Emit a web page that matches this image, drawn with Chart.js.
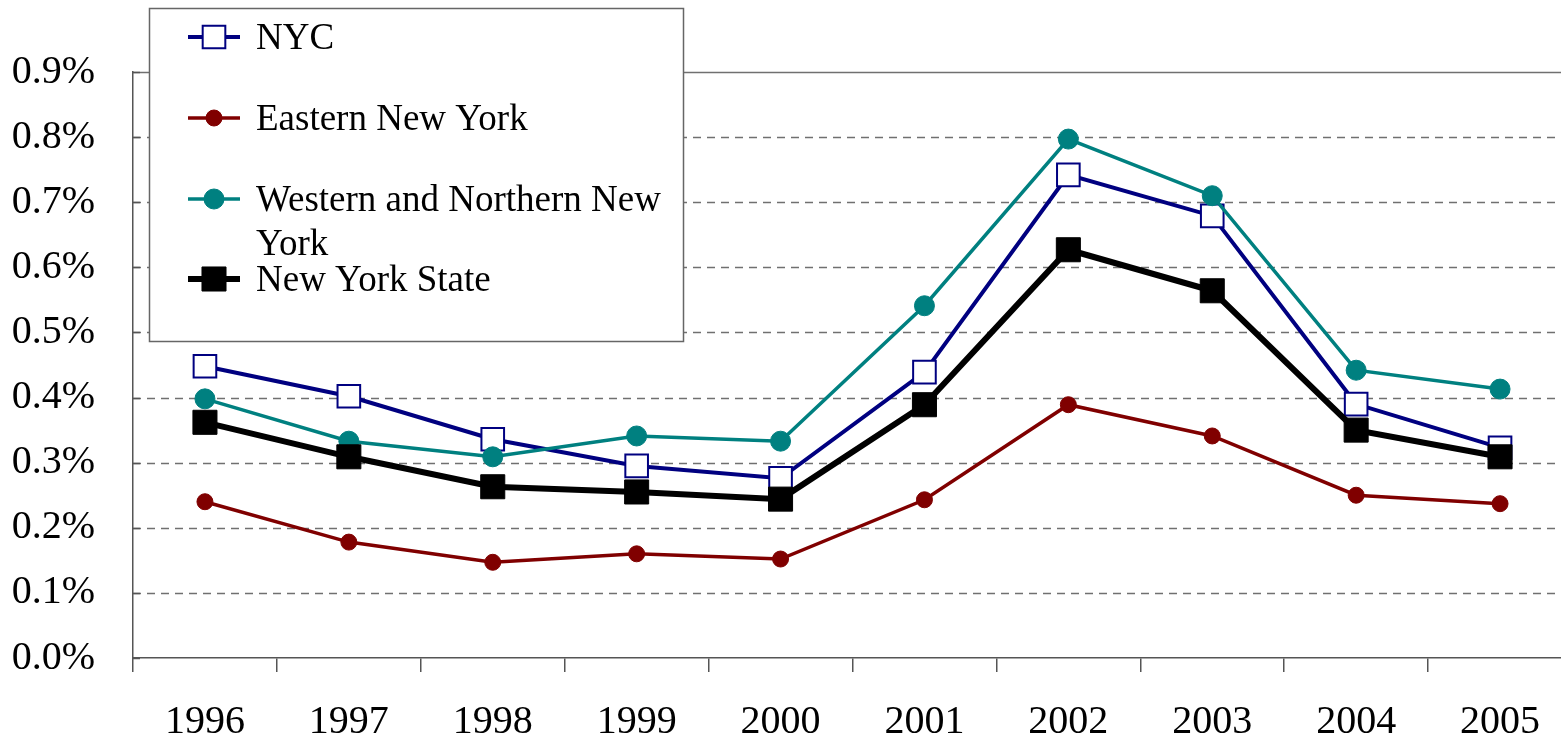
<!DOCTYPE html>
<html>
<head>
<meta charset="utf-8">
<script src="https://cdn.jsdelivr.net/npm/chart.js@4.4.0/dist/chart.umd.min.js"></script>
<style>
  html, body { margin: 0; padding: 0; background: #fff; overflow: hidden; }
  #wrap { position: relative; width: 1590px; height: 746px; }
</style>
</head>
<body>
<div id="wrap"><canvas id="rateChart" width="1590" height="746"></canvas></div>
<script>
// Chart data
const years = ['1996', '1997', '1998', '1999', '2000', '2001', '2002', '2003', '2004', '2005'];
const nycValues = [0.448, 0.402, 0.336, 0.295, 0.276, 0.439, 0.742, 0.679, 0.390, 0.323];
const easternValues = [0.240, 0.178, 0.147, 0.160, 0.152, 0.243, 0.389, 0.341, 0.250, 0.237];
const westernValues = [0.398, 0.333, 0.309, 0.341, 0.333, 0.541, 0.797, 0.710, 0.442, 0.413];
const stateValues = [0.362, 0.309, 0.263, 0.255, 0.244, 0.389, 0.627, 0.564, 0.350, 0.309];
const yTicks = [0, 0.1, 0.2, 0.3, 0.4, 0.5, 0.6, 0.7, 0.8, 0.9];

const serif = '"Liberation Serif", "Times New Roman", serif';

// Horizontal grid lines: dashed, solid line on top
const gridLines = {
    id: 'gridLines',
    beforeDatasetsDraw(chart) {
        const ctx = chart.ctx;
        const area = chart.chartArea;
        const y = chart.scales.y;
        ctx.save();
        ctx.strokeStyle = '#707070';
        ctx.lineWidth = 1.5;
        yTicks.forEach(function(v) {
            if (v === 0) return;
            const py = Math.round(y.getPixelForValue(v)) + 0.5;
            ctx.setLineDash(v === 0.9 ? [] : [8, 6]);
            ctx.beginPath();
            ctx.moveTo(area.left, py);
            ctx.lineTo(area.right, py);
            ctx.stroke();
        });
        // small inward ticks on the y axis
        ctx.setLineDash([]);
        ctx.strokeStyle = '#555';
        ctx.lineWidth = 1.5;
        yTicks.forEach(function(v) {
            const py = Math.round(y.getPixelForValue(v)) + 0.5;
            ctx.beginPath();
            ctx.moveTo(area.left, py);
            ctx.lineTo(area.left + 7, py);
            ctx.stroke();
        });
        ctx.restore();
    }
};

// Boxed legend drawn over the plot, top left
const boxLegend = {
    id: 'boxLegend',
    afterDraw(chart) {
        const ctx = chart.ctx;
        const box = { x: 149, y: 8, w: 534, h: 333 };
        ctx.save();
        ctx.fillStyle = '#fff';
        ctx.fillRect(box.x, box.y, box.w, box.h);
        ctx.strokeStyle = '#666';
        ctx.lineWidth = 1.5;
        ctx.strokeRect(box.x + 0.5, box.y + 0.5, box.w, box.h);

        const rows = [
            { lines: ['NYC'], y: 37 },
            { lines: ['Eastern New York'], y: 118 },
            { lines: ['Western and Northern New', 'York'], y: 199 },
            { lines: ['New York State'], y: 279 }
        ];
        ctx.font = '37px ' + serif;
        ctx.textBaseline = 'middle';
        ctx.textAlign = 'left';
        chart.data.datasets.forEach(function(ds, i) {
            const row = rows[i];
            ctx.strokeStyle = ds.borderColor;
            ctx.lineWidth = ds.borderWidth;
            ctx.beginPath();
            ctx.moveTo(188, row.y);
            ctx.lineTo(240, row.y);
            ctx.stroke();
            ctx.fillStyle = ds.pointBackgroundColor;
            ctx.strokeStyle = ds.pointBorderColor;
            ctx.lineWidth = ds.pointBorderWidth;
            ctx.beginPath();
            if (ds.pointStyle === 'rect') {
                const s = ds.pointRadius * Math.SQRT1_2;
                ctx.rect(214 - s, row.y - s, 2 * s, 2 * s);
            } else {
                ctx.arc(214, row.y, ds.pointRadius, 0, Math.PI * 2);
            }
            ctx.fill();
            ctx.stroke();
            ctx.fillStyle = '#000';
            row.lines.forEach(function(t, k) {
                ctx.fillText(t, 256, row.y + 2 + k * 44);
            });
        });
        ctx.restore();
    }
};

const ctx = document.getElementById('rateChart').getContext('2d');
const rateChart = new Chart(ctx, {
    type: 'line',
    data: {
        labels: years,
        datasets: [{
            label: 'NYC',
            data: nycValues,
            borderColor: '#000080',
            borderWidth: 4,
            pointStyle: 'rect',
            pointRadius: 16,
            pointBackgroundColor: '#ffffff',
            pointBorderColor: '#000080',
            pointBorderWidth: 2,
            order: 4
        }, {
            label: 'Eastern New York',
            data: easternValues,
            borderColor: '#800000',
            borderWidth: 3.5,
            pointStyle: 'circle',
            pointRadius: 8,
            pointBackgroundColor: '#800000',
            pointBorderColor: '#800000',
            pointBorderWidth: 1,
            order: 3
        }, {
            label: 'Western and Northern New York',
            data: westernValues,
            borderColor: '#008080',
            borderWidth: 3.5,
            pointStyle: 'circle',
            pointRadius: 10,
            pointBackgroundColor: '#008080',
            pointBorderColor: '#008080',
            pointBorderWidth: 1,
            order: 2
        }, {
            label: 'New York State',
            data: stateValues,
            borderColor: '#000000',
            borderWidth: 6,
            pointStyle: 'rect',
            pointRadius: 17,
            pointBackgroundColor: '#000000',
            pointBorderColor: '#000000',
            pointBorderWidth: 1,
            order: 1
        }]
    },
    options: {
        responsive: false,
        animation: false,
        layout: {
            padding: { top: 72, left: 12, right: 4, bottom: 0 }
        },
        plugins: {
            legend: { display: false },
            tooltip: { enabled: false }
        },
        elements: {
            line: { tension: 0 }
        },
        scales: {
            x: {
                offset: true,
                afterFit: function(scale) { scale.height = 88; },
                grid: {
                    offset: true,
                    drawOnChartArea: false,
                    drawTicks: true,
                    tickLength: 14,
                    color: '#555',
                    lineWidth: 1.5
                },
                border: { color: '#555', width: 1.5 },
                ticks: {
                    color: '#000',
                    padding: 26,
                    maxRotation: 0,
                    font: { family: serif, size: 40 }
                }
            },
            y: {
                min: 0,
                max: 0.9,
                afterFit: function(scale) { scale.width = 121; },
                afterBuildTicks: function(axis) {
                    axis.ticks = yTicks.map(function(v) { return { value: v }; });
                },
                grid: { display: false, drawTicks: false },
                border: { color: '#555', width: 1.5 },
                ticks: {
                    color: '#000',
                    padding: 38,
                    font: { family: serif, size: 40 },
                    callback: function(v) { return v.toFixed(1) + '%'; }
                }
            }
        }
    },
    plugins: [gridLines, boxLegend]
});
</script>
</body>
</html>
